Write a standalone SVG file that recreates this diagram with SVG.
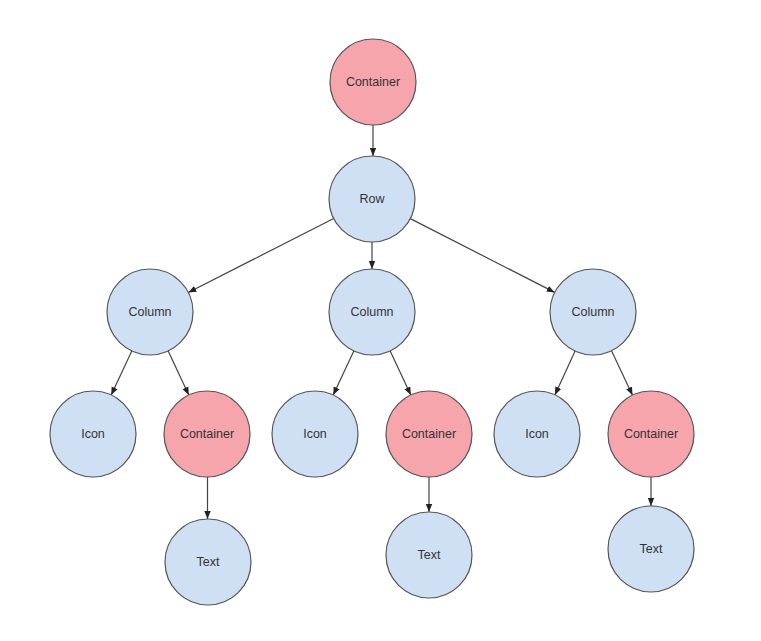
<svg xmlns="http://www.w3.org/2000/svg" width="761" height="641" viewBox="0 0 761 641">
<style>
.n{stroke:#555;stroke-width:1.2}
.b{fill:#cfe0f4}
.r{fill:#f7a5ad}
.t{font-family:"Liberation Sans",Arial,sans-serif;font-size:12.5px;fill:#333;text-anchor:middle;dominant-baseline:central}
.e{stroke:#444;stroke-width:1.2;fill:none;marker-end:url(#a)}
</style>
<defs>
<marker id="a" markerUnits="userSpaceOnUse" markerWidth="8" markerHeight="8" viewBox="0 0 8 8" refX="8" refY="4" orient="auto">
<path d="M0,0.8 L8,4 L0,7.2 Z" fill="#222"/>
</marker>
</defs>
<rect width="761" height="641" fill="#fff"/>
<g id="edges">
<line class="e" x1="373" y1="125" x2="373" y2="156"/>
<line class="e" x1="333.7" y1="218.5" x2="188.3" y2="292.5"/>
<line class="e" x1="372" y1="242" x2="372" y2="269"/>
<line class="e" x1="410.3" y1="218.6" x2="554.7" y2="292.4"/>
<line class="e" x1="131.8" y1="350.9" x2="111.2" y2="395.1"/>
<line class="e" x1="168.2" y1="350.9" x2="188.8" y2="395.1"/>
<line class="e" x1="353.8" y1="350.9" x2="333.2" y2="395.1"/>
<line class="e" x1="390.2" y1="350.9" x2="410.8" y2="395.1"/>
<line class="e" x1="575.1" y1="351.1" x2="554.9" y2="394.9"/>
<line class="e" x1="611.5" y1="350.8" x2="632.5" y2="395.2"/>
<line class="e" x1="207.5" y1="477" x2="207.5" y2="519"/>
<line class="e" x1="429" y1="477" x2="429" y2="512"/>
<line class="e" x1="651" y1="477" x2="651" y2="506"/>
</g>
<g id="root"><circle class="n r" cx="373" cy="82" r="43"/><text class="t" x="373" y="82">Container</text></g>
<g id="row"><circle class="n b" cx="372" cy="199" r="43"/><text class="t" x="372" y="199">Row</text></g>
<g id="col1"><circle class="n b" cx="150" cy="312" r="43"/><text class="t" x="150" y="312">Column</text></g>
<g id="col2"><circle class="n b" cx="372" cy="312" r="43"/><text class="t" x="372" y="312">Column</text></g>
<g id="col3"><circle class="n b" cx="593" cy="312" r="43"/><text class="t" x="593" y="312">Column</text></g>
<g id="icon1"><circle class="n b" cx="93" cy="434" r="43"/><text class="t" x="93" y="434">Icon</text></g>
<g id="cont1"><circle class="n r" cx="207" cy="434" r="43"/><text class="t" x="207" y="434">Container</text></g>
<g id="text1"><circle class="n b" cx="208" cy="562" r="43"/><text class="t" x="208" y="562">Text</text></g>
<g id="icon2"><circle class="n b" cx="315" cy="434" r="43"/><text class="t" x="315" y="434">Icon</text></g>
<g id="cont2"><circle class="n r" cx="429" cy="434" r="43"/><text class="t" x="429" y="434">Container</text></g>
<g id="text2"><circle class="n b" cx="429" cy="555" r="43"/><text class="t" x="429" y="555">Text</text></g>
<g id="icon3"><circle class="n b" cx="537" cy="434" r="43"/><text class="t" x="537" y="434">Icon</text></g>
<g id="cont3"><circle class="n r" cx="651" cy="434" r="43"/><text class="t" x="651" y="434">Container</text></g>
<g id="text3"><circle class="n b" cx="651" cy="549" r="43"/><text class="t" x="651" y="549">Text</text></g>
</svg>
